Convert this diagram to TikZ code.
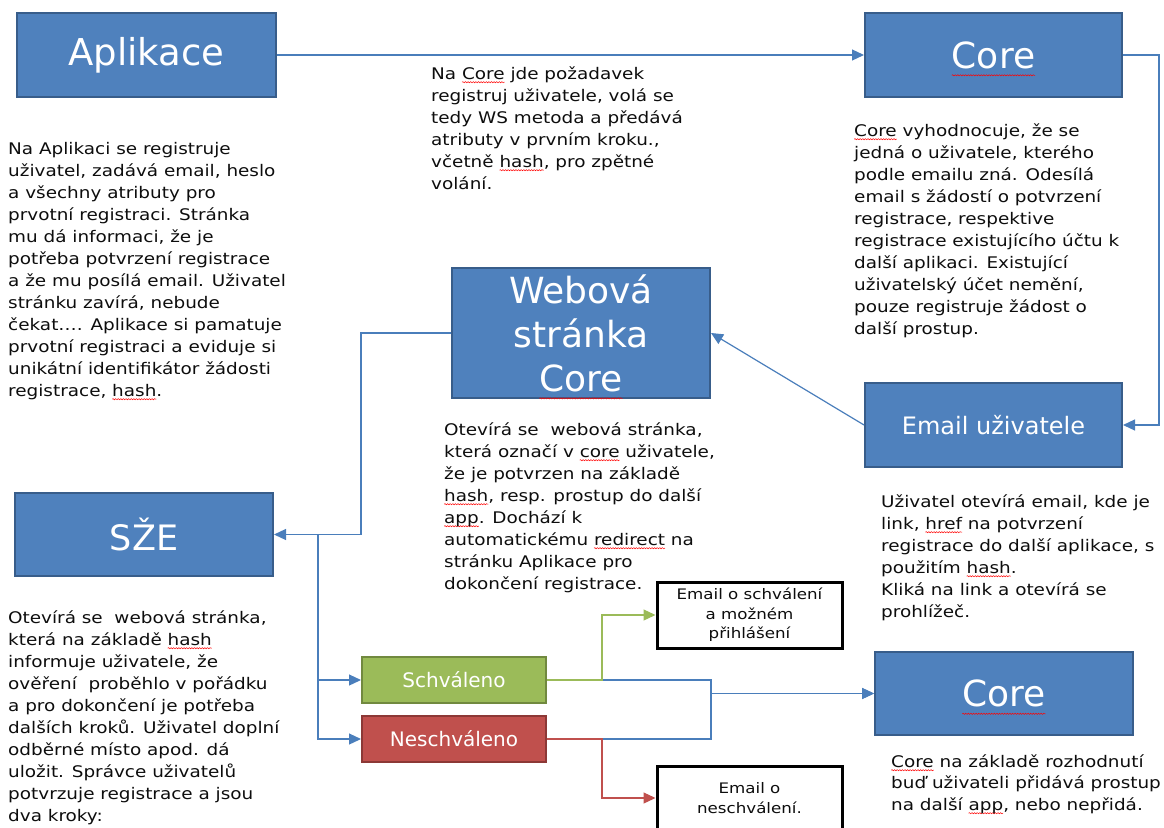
\documentclass[tikz,border=0pt]{standalone}
\usepackage{fontspec}
\usetikzlibrary{arrows.meta,calc,decorations.pathmorphing}
\setmainfont{DejaVu Sans}
\newfontfamily\bodyf[FakeStretch=1.15]{DejaVu Sans}
\definecolor{boxblue}{HTML}{4F81BD}
\definecolor{boxborder}{HTML}{385D8A}
\definecolor{okfill}{HTML}{9BBB59}
\definecolor{okborder}{HTML}{71893F}
\definecolor{nokfill}{HTML}{C0504D}
\definecolor{nokborder}{HTML}{8C3836}
\definecolor{linec}{HTML}{4A7EBB}
\definecolor{greenline}{HTML}{9BBB59}
\definecolor{redline}{HTML}{C0504D}
\definecolor{textc}{HTML}{0D0D0D}
\newlength\spwd
\newcommand\spw[1]{\settowidth\spwd{#1}\tikz[overlay,x=1pt,y=1pt,baseline=0pt]\draw[red,line width=0.5pt,decorate,decoration={snake,amplitude=0.6pt,segment length=2.6pt}] (0pt,-0.2em)--(\spwd,-0.2em);#1}
\tikzset{
  bluebox/.style={draw=boxborder, line width=2pt, fill=boxblue, text=white, inner sep=0pt, align=center},
  okbox/.style={draw=okborder, line width=2pt, fill=okfill, text=white, inner sep=0pt, minimum width=184pt, minimum height=46pt, font=\fontsize{20}{24}\selectfont},
  nokbox/.style={draw=nokborder, line width=2pt, fill=nokfill, text=white, inner sep=0pt, minimum width=184pt, minimum height=46pt, font=\fontsize{20}{24}\selectfont},
  mailbox/.style={draw=black, line width=3pt, fill=white, text=textc, inner sep=0pt, align=center, minimum width=185pt, font={\bodyf\fontsize{14.5}{19.5}\selectfont}},
  body/.style={align=left, inner sep=0pt, anchor=base west, text=textc, font={\bodyf\fontsize{16}{22}\selectfont}},
  conn/.style={draw=linec, line width=1.2pt, -{Triangle[length=12pt,width=11pt]}},
  gconn/.style={draw=greenline, line width=1.2pt, -{Triangle[length=12pt,width=11pt]}},
  rconn/.style={draw=redline, line width=1.2pt, -{Triangle[length=12pt,width=11pt]}},
}
\begin{document}
\begin{tikzpicture}[x=1pt,y=-1pt]
\useasboundingbox (0,0) rectangle (1164,827);
\clip (0,0) rectangle (1164,827);
% boxes
\node[bluebox, minimum width=259pt, minimum height=84pt, font=\fontsize{37}{44}\selectfont] (apl) at (146.5,55) {Aplikace};
\node[bluebox, minimum width=257pt, minimum height=84pt, font=\fontsize{36}{44}\selectfont] (core1) at (993.5,55) {\spw{Core}};
\node[bluebox, minimum width=257pt, minimum height=84pt, font=\fontsize{24}{30}\selectfont] (email) at (993.5,425) {Email uživatele};
\node[bluebox, minimum width=258pt, minimum height=130pt, font=\fontsize{36}{44}\selectfont] (web) at (581,333) {Webová\\stránka\\\spw{Core}};
\node[bluebox, minimum width=258pt, minimum height=83pt, font=\fontsize{35}{44}\selectfont] (sze) at (144,534.5) {SŽE};
\node[okbox] (sch) at (454,680) {Schváleno};
\node[nokbox] (nesch) at (454,739) {Neschváleno};
\node[mailbox, minimum height=66pt] (eok) at (749.5,615) {Email o schválení\\a možném\\přihlášení};
\node[mailbox, minimum height=64pt] (enok) at (749.5,798) {Email o\\neschválení.};
\node[bluebox, minimum width=258pt, minimum height=83pt, font=\fontsize{36}{44}\selectfont] (core2) at (1004,693.5) {\spw{Core}};
% texts (anchored at the baseline of their last line)
\node[body] (t1) at (8,396) {Na Aplikaci se registruje\\uživatel, zadává email, heslo\\a všechny atributy pro\\prvotní registraci. Stránka\\mu dá informaci, že je\\potřeba potvrzení registrace\\a že mu posílá email. Uživatel\\stránku zavírá, nebude\\čekat…. Aplikace si pamatuje\\prvotní registraci a eviduje si\\unikátní identifikátor žádosti\\registrace, \spw{hash}.};
\node[body] (t2) at (431,189) {Na \spw{Core} jde požadavek\\registruj uživatele, volá se\\tedy WS metoda a předává\\atributy v prvním kroku.,\\včetně \spw{hash}, pro zpětné\\volání.};
\node[body] (t3) at (854,334) {\spw{Core} vyhodnocuje, že se\\jedná o uživatele, kterého\\podle emailu zná. Odesílá\\email s žádostí o potvrzení\\registrace, respektive\\registrace existujícího účtu k\\další aplikaci. Existující\\uživatelský účet nemění,\\pouze registruje žádost o\\další prostup.};
\node[body] (t4) at (444,589) {Otevírá se\ \ webová stránka,\\která označí v \spw{core} uživatele,\\že je potvrzen na základě\\\spw{hash}, resp. prostup do další\\\spw{app}. Dochází k\\automatickému \spw{redirect} na\\stránku Aplikace pro\\dokončení registrace.};
\node[body] (t5) at (8,821) {Otevírá se\ \ webová stránka,\\která na základě \spw{hash}\\informuje uživatele, že\\ověření\ \ proběhlo v pořádku\\a pro dokončení je potřeba\\dalších kroků. Uživatel doplní\\odběrné místo apod. dá\\uložit. Správce uživatelů\\potvrzuje registrace a jsou\\dva kroky:};
\node[body] (t6) at (881,617) {Uživatel otevírá email, kde je\\link, \spw{href} na potvrzení\\registrace do další aplikace, s\\použitím \spw{hash}.\\Kliká na link a otevírá se\\prohlížeč.};
\node[body, font={\bodyf\fontsize{16}{21.5}\selectfont}] (t7) at (891,810) {\spw{Core} na základě rozhodnutí\\buď uživateli přidává prostup\\na další \spw{app}, nebo nepřidá.};
% connectors
\draw[conn] (apl.east) -- (core1.west);
\draw[conn] (core1.east) -- ++(36,0) |- (email.east);
\draw[conn] (email.west) -- (web.east);
\draw[conn] (web.west) -- ++(-90,0) |- (sze.east);
\coordinate (j) at ($(sze.east)+(44,0)$);
\draw[conn] (j) |- (sch.west);
\draw[conn] (j) |- (nesch.west);
\draw[conn] (sch.east) -- ++(164,0) |- (core2.west);
\draw[conn] (nesch.east) -- ++(164,0) |- (core2.west);
\draw[gconn] (sch.east) -- ++(55,0) |- (eok.west);
\draw[rconn] (nesch.east) -- ++(55,0) |- (enok.west);
\end{tikzpicture}
\end{document}
